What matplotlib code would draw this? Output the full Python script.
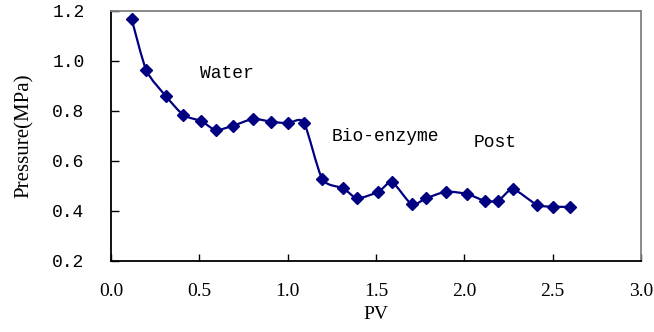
import numpy as np
import matplotlib.pyplot as plt
from matplotlib.path import Path
from matplotlib.patches import PathPatch

# data
pv = [0.117, 0.20, 0.309, 0.41, 0.512, 0.593, 0.691, 0.804, 0.908, 1.002, 1.092,
      1.196, 1.315, 1.394, 1.514, 1.591, 1.702, 1.785, 1.897, 2.015, 2.115,
      2.192, 2.275, 2.41, 2.503, 2.599]
pressure = [1.168, 0.963, 0.861, 0.784, 0.759, 0.724, 0.741, 0.768, 0.757, 0.751, 0.753,
            0.528, 0.491, 0.451, 0.477, 0.515, 0.427, 0.451, 0.477, 0.468, 0.441,
            0.441, 0.487, 0.425, 0.417, 0.417]
stage_labels = ["Water", "Bio-enzyme", "Post"]
stage_pos = [(0.505, 0.948), (1.25, 0.696), (2.05, 0.672)]
xticks = [0.0, 0.5, 1.0, 1.5, 2.0, 2.5, 3.0]
yticks = [0.2, 0.4, 0.6, 0.8, 1.0, 1.2]

color = "#000080"


def smooth_path(x, y, t=0.12):
    # smoothed line like a spreadsheet chart: cubic bezier segments
    x = np.asarray(x)
    y = np.asarray(y)
    verts = [(x[0], y[0])]
    codes = [Path.MOVETO]
    n = len(x)
    for i in range(n - 1):
        p0 = (x[max(i - 1, 0)], y[max(i - 1, 0)])
        p1 = (x[i], y[i])
        p2 = (x[i + 1], y[i + 1])
        p3 = (x[min(i + 2, n - 1)], y[min(i + 2, n - 1)])
        c1 = (p1[0] + (p2[0] - p0[0]) * t, p1[1] + (p2[1] - p0[1]) * t)
        c2 = (p2[0] - (p3[0] - p1[0]) * t, p2[1] - (p3[1] - p1[1]) * t)
        verts += [c1, c2, p2]
        codes += [Path.CURVE4] * 3
    return Path(verts, codes)


fig = plt.figure(figsize=(6.54, 3.32), dpi=100)
ax = fig.add_axes([0.1697, 0.2139, 0.9801 - 0.1697, 0.9669 - 0.2139])

ax.add_patch(PathPatch(smooth_path(pv, pressure), facecolor="none",
                       edgecolor=color, lw=1.6, zorder=2))
ax.plot(pv, pressure, linestyle="none", marker="D", ms=6.6, color=color, zorder=3)

for lab, (xx, yy) in zip(stage_labels, stage_pos):
    ax.text(xx, yy, lab, fontsize=13, family="Liberation Mono", ha="left", va="center")

ax.set_xlim(0, 3.0)
ax.set_ylim(0.2, 1.2)
ax.set_xticks(xticks)
ax.set_xticklabels([f"{v:.1f}" for v in xticks], family="Liberation Serif", fontsize=14)
ax.set_yticks(yticks)
ax.set_yticklabels([f"{v:.1f}" for v in yticks], family="Liberation Mono", fontsize=13)
ax.tick_params(axis="x", direction="in", length=5, width=1, pad=16)
ax.tick_params(axis="y", direction="in", length=6, width=1, pad=19)

ax.set_xlabel("PV", family="Liberation Serif", fontsize=14, labelpad=4)
ax.set_ylabel("Pressure(MPa)", family="Liberation Serif", fontsize=15, labelpad=13)

for s in ["left", "bottom"]:
    ax.spines[s].set_color("black")
    ax.spines[s].set_linewidth(1.3)
for s in ["top", "right"]:
    ax.spines[s].set_color("#808080")
    ax.spines[s].set_linewidth(1.3)

fig.savefig("out.png", dpi=100)
